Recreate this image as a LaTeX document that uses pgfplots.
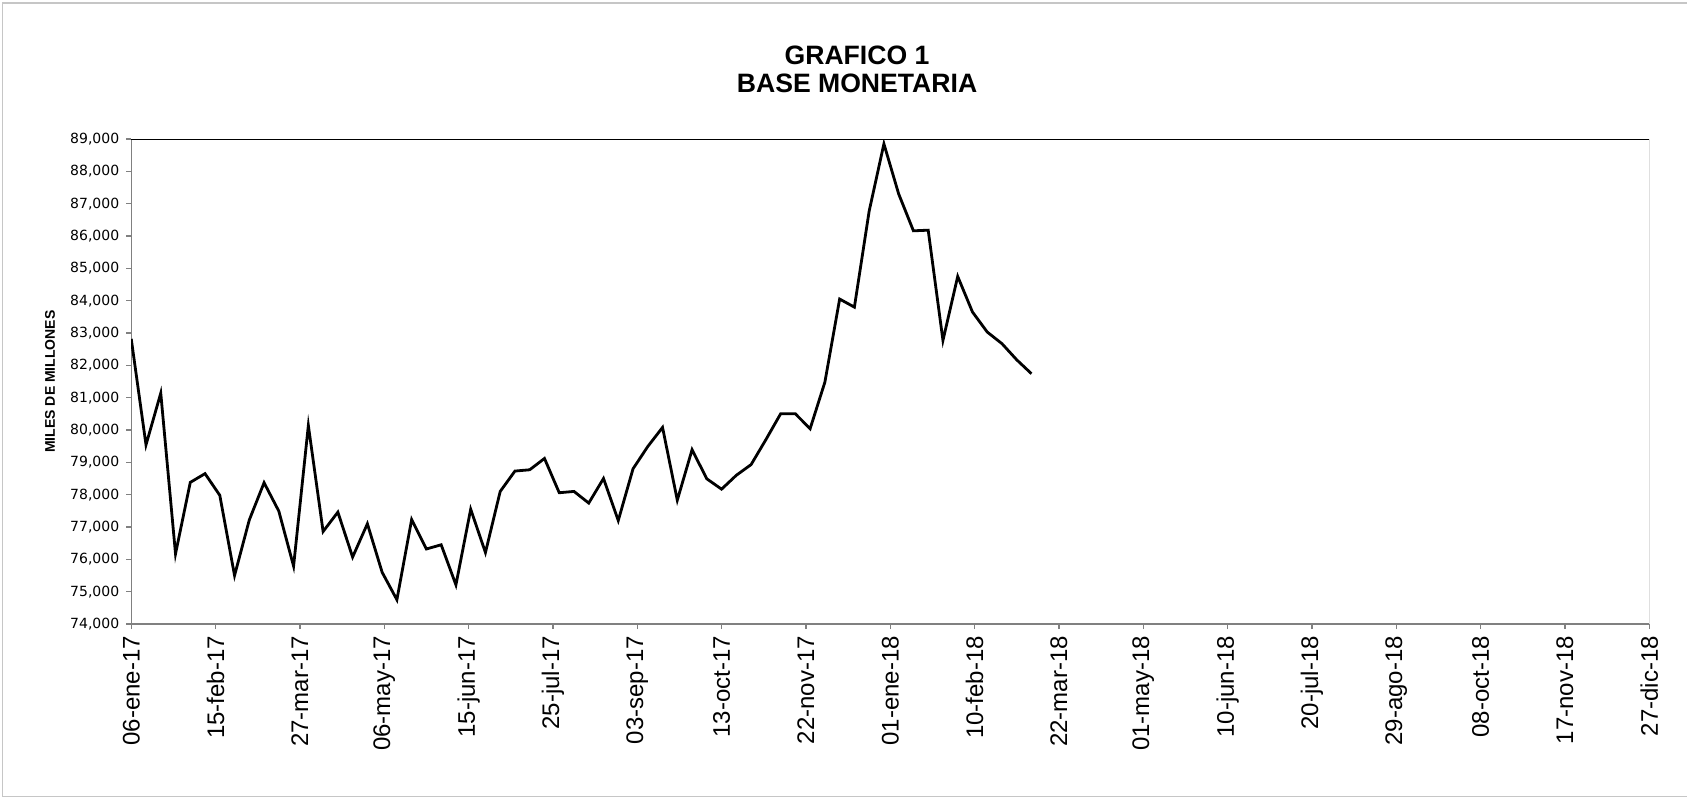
\documentclass[border=0pt]{standalone}
\usepackage{fontspec}
\setmainfont{Liberation Sans}
\newfontfamily\dejavu{DejaVu Sans}
\usepackage{pgfplots}
\pgfplotsset{compat=1.18}

% weekly values, x = days since 06-ene-17
\pgfplotstableread{
d v
0 82820
7 79540
14 81140
21 76170
28 78380
35 78650
42 77980
49 75500
56 77220
63 78370
70 77490
77 75790
84 80140
91 76860
98 77460
105 76070
112 77100
119 75600
126 74750
133 77230
140 76320
147 76450
154 75210
161 77550
168 76210
175 78100
182 78730
189 78770
196 79120
203 78060
210 78100
217 77740
224 78500
231 77200
238 78800
245 79490
252 80080
259 77830
266 79390
273 78490
280 78170
287 78600
294 78930
301 79700
308 80500
315 80500
322 80040
329 81480
336 84050
343 83800
350 86770
357 88850
364 87300
371 86160
378 86180
385 82770
392 84750
399 83650
406 83030
413 82670
420 82170
427 81740
}\base

\begin{document}
\begin{tikzpicture}
\useasboundingbox (-65.625pt,-87pt) rectangle (777.875pt,312pt);
\draw[gray!45, line width=0.8pt] (777.875pt,310.6pt) -- (-64.3pt,310.6pt) -- (-64.3pt,-86.2pt) -- (777.875pt,-86.2pt);

\node[anchor=base, font=\bfseries\fontsize{13.3}{14}\selectfont] at (362.9pt,279.5pt) {GRAFICO 1};
\node[anchor=base, font=\bfseries\fontsize{13.3}{14}\selectfont] at (362.9pt,265.5pt) {BASE MONETARIA};
\node[rotate=90, font=\bfseries\fontsize{7}{8}\selectfont] at (-40.6pt,121.25pt) {MILES DE MILLONES};

\begin{axis}[
  at={(0,0)}, anchor=south west,
  scale only axis, width=759pt, height=242.5pt,
  xmin=0, xmax=720, ymin=74000, ymax=89000,
  axis lines=left,
  axis line style={gray, line width=0.7pt, -},
  tick style={gray, line width=0.6pt},
  tick align=outside,
  major tick length=2.5pt,
  xtick={0,40,...,720},
  xticklabels={06-ene-17,15-feb-17,27-mar-17,06-may-17,15-jun-17,25-jul-17,03-sep-17,13-oct-17,22-nov-17,01-ene-18,10-feb-18,22-mar-18,01-may-18,10-jun-18,20-jul-18,29-ago-18,08-oct-18,17-nov-18,27-dic-18},
  x tick label style={rotate=90, anchor=east, font=\fontsize{12}{13}\selectfont},
  ytick={74000,75000,...,89000},
  scaled y ticks=false,
  y tick label style={font=\dejavu\fontsize{7}{8}\selectfont},
  /pgf/number format/.cd, fixed, precision=0, 1000 sep={,}, assume math mode=true,
]
\addplot[black, line width=1.4pt] table[x=d, y=v] {\base};
\draw[black, line width=0.7pt] (rel axis cs:0,1) -- (rel axis cs:1,1) -- (rel axis cs:1,0);
\end{axis}
\end{tikzpicture}
\end{document}
